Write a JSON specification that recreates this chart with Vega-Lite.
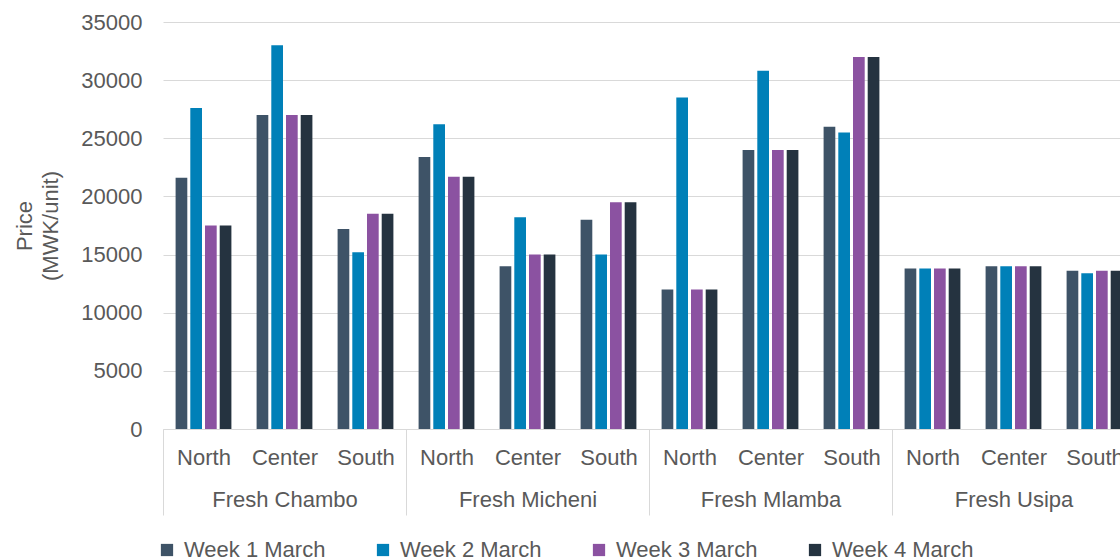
{
  "$schema": "https://vega.github.io/schema/vega-lite/v6.json",
  "autosize": {"type": "none"},
  "width": 957,
  "height": 407,
  "padding": {"left": 163, "top": 22, "right": 0, "bottom": 130},
  "background": "white",
  "config": {"view": {"stroke": null}, "font": "Liberation Sans"},
  "data": {"values": [
    {"fish": "Fresh Chambo", "region": "North", "key": "Fresh Chambo|North", "week": "Week 1 March", "price": 21600},
    {"fish": "Fresh Chambo", "region": "North", "key": "Fresh Chambo|North", "week": "Week 2 March", "price": 27600},
    {"fish": "Fresh Chambo", "region": "North", "key": "Fresh Chambo|North", "week": "Week 3 March", "price": 17500},
    {"fish": "Fresh Chambo", "region": "North", "key": "Fresh Chambo|North", "week": "Week 4 March", "price": 17500},
    {"fish": "Fresh Chambo", "region": "Center", "key": "Fresh Chambo|Center", "week": "Week 1 March", "price": 27000},
    {"fish": "Fresh Chambo", "region": "Center", "key": "Fresh Chambo|Center", "week": "Week 2 March", "price": 33000},
    {"fish": "Fresh Chambo", "region": "Center", "key": "Fresh Chambo|Center", "week": "Week 3 March", "price": 27000},
    {"fish": "Fresh Chambo", "region": "Center", "key": "Fresh Chambo|Center", "week": "Week 4 March", "price": 27000},
    {"fish": "Fresh Chambo", "region": "South", "key": "Fresh Chambo|South", "week": "Week 1 March", "price": 17200},
    {"fish": "Fresh Chambo", "region": "South", "key": "Fresh Chambo|South", "week": "Week 2 March", "price": 15200},
    {"fish": "Fresh Chambo", "region": "South", "key": "Fresh Chambo|South", "week": "Week 3 March", "price": 18500},
    {"fish": "Fresh Chambo", "region": "South", "key": "Fresh Chambo|South", "week": "Week 4 March", "price": 18500},
    {"fish": "Fresh Micheni", "region": "North", "key": "Fresh Micheni|North", "week": "Week 1 March", "price": 23400},
    {"fish": "Fresh Micheni", "region": "North", "key": "Fresh Micheni|North", "week": "Week 2 March", "price": 26200},
    {"fish": "Fresh Micheni", "region": "North", "key": "Fresh Micheni|North", "week": "Week 3 March", "price": 21700},
    {"fish": "Fresh Micheni", "region": "North", "key": "Fresh Micheni|North", "week": "Week 4 March", "price": 21700},
    {"fish": "Fresh Micheni", "region": "Center", "key": "Fresh Micheni|Center", "week": "Week 1 March", "price": 14000},
    {"fish": "Fresh Micheni", "region": "Center", "key": "Fresh Micheni|Center", "week": "Week 2 March", "price": 18200},
    {"fish": "Fresh Micheni", "region": "Center", "key": "Fresh Micheni|Center", "week": "Week 3 March", "price": 15000},
    {"fish": "Fresh Micheni", "region": "Center", "key": "Fresh Micheni|Center", "week": "Week 4 March", "price": 15000},
    {"fish": "Fresh Micheni", "region": "South", "key": "Fresh Micheni|South", "week": "Week 1 March", "price": 18000},
    {"fish": "Fresh Micheni", "region": "South", "key": "Fresh Micheni|South", "week": "Week 2 March", "price": 15000},
    {"fish": "Fresh Micheni", "region": "South", "key": "Fresh Micheni|South", "week": "Week 3 March", "price": 19500},
    {"fish": "Fresh Micheni", "region": "South", "key": "Fresh Micheni|South", "week": "Week 4 March", "price": 19500},
    {"fish": "Fresh Mlamba", "region": "North", "key": "Fresh Mlamba|North", "week": "Week 1 March", "price": 12000},
    {"fish": "Fresh Mlamba", "region": "North", "key": "Fresh Mlamba|North", "week": "Week 2 March", "price": 28500},
    {"fish": "Fresh Mlamba", "region": "North", "key": "Fresh Mlamba|North", "week": "Week 3 March", "price": 12000},
    {"fish": "Fresh Mlamba", "region": "North", "key": "Fresh Mlamba|North", "week": "Week 4 March", "price": 12000},
    {"fish": "Fresh Mlamba", "region": "Center", "key": "Fresh Mlamba|Center", "week": "Week 1 March", "price": 24000},
    {"fish": "Fresh Mlamba", "region": "Center", "key": "Fresh Mlamba|Center", "week": "Week 2 March", "price": 30800},
    {"fish": "Fresh Mlamba", "region": "Center", "key": "Fresh Mlamba|Center", "week": "Week 3 March", "price": 24000},
    {"fish": "Fresh Mlamba", "region": "Center", "key": "Fresh Mlamba|Center", "week": "Week 4 March", "price": 24000},
    {"fish": "Fresh Mlamba", "region": "South", "key": "Fresh Mlamba|South", "week": "Week 1 March", "price": 26000},
    {"fish": "Fresh Mlamba", "region": "South", "key": "Fresh Mlamba|South", "week": "Week 2 March", "price": 25500},
    {"fish": "Fresh Mlamba", "region": "South", "key": "Fresh Mlamba|South", "week": "Week 3 March", "price": 32000},
    {"fish": "Fresh Mlamba", "region": "South", "key": "Fresh Mlamba|South", "week": "Week 4 March", "price": 32000},
    {"fish": "Fresh Usipa", "region": "North", "key": "Fresh Usipa|North", "week": "Week 1 March", "price": 13800},
    {"fish": "Fresh Usipa", "region": "North", "key": "Fresh Usipa|North", "week": "Week 2 March", "price": 13800},
    {"fish": "Fresh Usipa", "region": "North", "key": "Fresh Usipa|North", "week": "Week 3 March", "price": 13800},
    {"fish": "Fresh Usipa", "region": "North", "key": "Fresh Usipa|North", "week": "Week 4 March", "price": 13800},
    {"fish": "Fresh Usipa", "region": "Center", "key": "Fresh Usipa|Center", "week": "Week 1 March", "price": 14000},
    {"fish": "Fresh Usipa", "region": "Center", "key": "Fresh Usipa|Center", "week": "Week 2 March", "price": 14000},
    {"fish": "Fresh Usipa", "region": "Center", "key": "Fresh Usipa|Center", "week": "Week 3 March", "price": 14000},
    {"fish": "Fresh Usipa", "region": "Center", "key": "Fresh Usipa|Center", "week": "Week 4 March", "price": 14000},
    {"fish": "Fresh Usipa", "region": "South", "key": "Fresh Usipa|South", "week": "Week 1 March", "price": 13600},
    {"fish": "Fresh Usipa", "region": "South", "key": "Fresh Usipa|South", "week": "Week 2 March", "price": 13400},
    {"fish": "Fresh Usipa", "region": "South", "key": "Fresh Usipa|South", "week": "Week 3 March", "price": 13600},
    {"fish": "Fresh Usipa", "region": "South", "key": "Fresh Usipa|South", "week": "Week 4 March", "price": 13600}
  ]},
  "mark": {"type": "bar"},
  "encoding": {
    "x": {
      "field": "key", "type": "nominal", "sort": null,
      "scale": {"range": [0, 972], "paddingInner": 0, "paddingOuter": 0},
      "axis": {
        "title": null,
        "labelAngle": 0,
        "labelExpr": "split(datum.value,'|')[1] == 'Center' ? ['Center', split(datum.value,'|')[0]] : split(datum.value,'|')[1]",
        "labelFont": "Liberation Sans", "labelFontSize": 22, "labelColor": "#595959",
        "labelLineHeight": 42, "labelPadding": -68, "labelOverlap": false, "labelBound": false,
        "tickBand": "extent", "tickSize": 86, "tickWidth": 1,
        "tickColor": {"condition": {"test": "!isValid(datum.value) || split(datum.value,'|')[1] == 'South'", "value": "#d9d9d9"}, "value": "transparent"},
        "domainColor": "#d9d9d9", "domainWidth": 1, "grid": false
      }
    },
    "xOffset": {"field": "week", "type": "nominal", "sort": null, "scale": {"paddingInner": 0.204, "paddingOuter": 0.857}},
    "y": {
      "field": "price", "type": "quantitative",
      "scale": {"domain": [0, 35000], "nice": false},
      "axis": {
        "title": ["Price", "(MWK/unit)"],
        "titleFont": "Liberation Sans", "titleFontSize": 22, "titleFontWeight": "normal", "titleColor": "#595959",
        "titleLineHeight": 26, "titlePadding": 18,
        "values": [0, 5000, 10000, 15000, 20000, 25000, 30000, 35000], "format": "d",
        "labelFont": "Liberation Sans", "labelFontSize": 22, "labelColor": "#595959", "labelPadding": 21,
        "ticks": false, "domain": false, "gridColor": "#d9d9d9", "gridWidth": 1
      }
    },
    "color": {
      "field": "week", "type": "nominal", "sort": null,
      "scale": {"domain": ["Week 1 March", "Week 2 March", "Week 3 March", "Week 4 March"], "range": ["#3e5367", "#0080b8", "#8b52a1", "#253340"]},
      "legend": {
        "title": null, "orient": "none", "direction": "horizontal", "legendX": -7, "legendY": 517,
        "symbolType": "square", "symbolSize": 150, "symbolStrokeWidth": 0, "symbolOpacity": 1,
        "labelFont": "Liberation Sans", "labelFontSize": 22, "labelColor": "#595959", "labelOffset": 6,
        "columnPadding": 46
      }
    }
  }
}
